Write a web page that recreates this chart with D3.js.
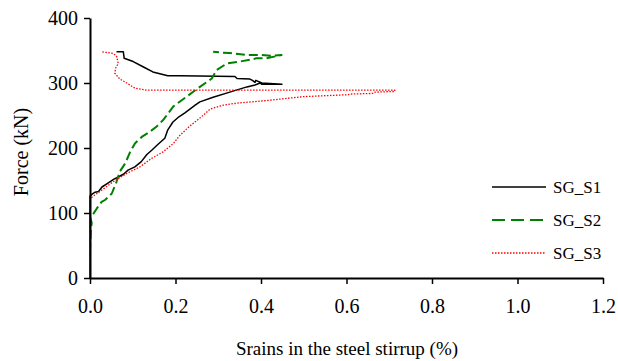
<!DOCTYPE html>
<html><head><meta charset="utf-8">
<script src="https://cdn.jsdelivr.net/npm/d3@7/dist/d3.min.js"></script>
<style>body{margin:0;background:#fff}svg{display:block}</style>
</head><body>
<svg id="c" width="618" height="361"></svg>
<script>
// strain (%) , force (kN)
const s1Strain = [0,0,0.005,0.012,0.020,0.028,0.042,0.056,0.065,0.079,0.089,0.105,0.120,0.133,0.145,0.158,0.175,0.182,0.194,0.208,0.222,0.246,0.257,0.288,0.327,0.367,0.386,0.398,0.402,0.449,0.402,0.388,0.386,0.380,0.374,0.344,0.339,0.211,0.182,0.147,0.124,0.101,0.080,0.078,0.062];
const s1Force  = [0,126,129,132,133,140,146,152,155,160,166,171,179,190,197,205,215,228,240,248,254,266,271,278,286,294,297,300,298,298,300,304,301,304,306,307,310,311,311,317,325,333,338,348,348];
const s2Strain = [0,0,0.002,0.004,0.001,0.004,0.010,0.016,0.027,0.035,0.045,0.051,0.062,0.070,0.082,0.094,0.105,0.121,0.140,0.156,0.171,0.195,0.226,0.257,0.285,0.296,0.320,0.351,0.390,0.413,0.448,0.425,0.402,0.367,0.327,0.304,0.288];
const s2Force  = [0,43,74,85,92,94,101,107,117,120,126,130,148,164,176,194,207,217,225,233,243,264,279,294,307,320,330,333,338,338,343,342,343,343,346,347,348];
const s3Strain = [0,0,0.012,0.023,0.054,0.086,0.117,0.144,0.171,0.195,0.211,0.234,0.257,0.281,0.312,0.343,0.378,0.413,0.456,0.499,0.534,0.604,0.608,0.663,0.667,0.713,0.713,0.133,0.105,0.086,0.070,0.058,0.060,0.066,0.062,0.051,0.026];
const s3Force  = [0,122,128,133,148,161,171,184,194,207,220,234,246,260,266,269,271,273,276,279,280,282,283,284,286,287,289,289,292,300,306,315,323,330,342,346,348];
const seriesNames = ["SG_S1","SG_S2","SG_S3"];
const xTicks = [0,0.2,0.4,0.6,0.8,1.0,1.2];
const yTicks = [0,100,200,300,400];

const svg = d3.select("#c");
const x = d3.scaleLinear().domain([0,1.2]).range([90,603]);
const y = d3.scaleLinear().domain([0,400]).range([278,18]);
const font = "'Liberation Serif','Times New Roman',serif";

const series = [
  {name:seriesNames[0], xs:s1Strain, ys:s1Force, color:"#000000", w:1.5, dash:null, legDash:null},
  {name:seriesNames[1], xs:s2Strain, ys:s2Force, color:"#008000", w:2, dash:"9,4", legDash:"13,6"},
  {name:seriesNames[2], xs:s3Strain, ys:s3Force, color:"#ff0000", w:1.3, dash:"1.5,1.5", legDash:"1.5,1.5"}
];
const line = d3.line().x(d=>x(d[0])).y(d=>y(d[1]));
series.forEach(s=>{
  const pts = s.xs.map((v,i)=>[v,s.ys[i]]);
  svg.append("path").attr("d",line(pts)).attr("fill","none")
    .attr("stroke",s.color).attr("stroke-width",s.w)
    .attr("stroke-dasharray",s.dash).attr("stroke-linejoin","round");
});

const xa = svg.append("g").attr("transform","translate(0,278)")
  .call(d3.axisBottom(x).tickValues(xTicks).tickFormat(d3.format(".1f")).tickSizeInner(6).tickSizeOuter(0).tickPadding(15));
const ya = svg.append("g").attr("transform","translate(90,0)")
  .call(d3.axisLeft(y).tickValues(yTicks).tickSizeInner(6).tickSizeOuter(0).tickPadding(6));
[xa,ya].forEach(a=>{
  a.select(".domain").attr("stroke","#000").attr("stroke-width",2);
  a.selectAll(".tick line").attr("stroke","#000").attr("stroke-width",1.5);
  a.selectAll("text").attr("font-family",font).attr("font-size",20).attr("fill","#000");
});

svg.append("text").attr("x",347).attr("y",355).attr("text-anchor","middle")
  .attr("font-family",font).attr("font-size",19).text("Srains in the steel stirrup (%)");
svg.append("text").attr("transform","translate(28,152) rotate(-90)").attr("text-anchor","middle")
  .attr("font-family",font).attr("font-size",20).text("Force (kN)");

const legY = [187,220,253];
series.forEach((s,i)=>{
  svg.append("line").attr("x1",492).attr("x2",546).attr("y1",legY[i]).attr("y2",legY[i])
    .attr("stroke",s.color).attr("stroke-width",s.w).attr("stroke-dasharray",s.legDash);
  svg.append("text").attr("x",553).attr("y",legY[i]+6).attr("font-family",font)
    .attr("font-size",17).text(s.name);
});
</script>
</body></html>
